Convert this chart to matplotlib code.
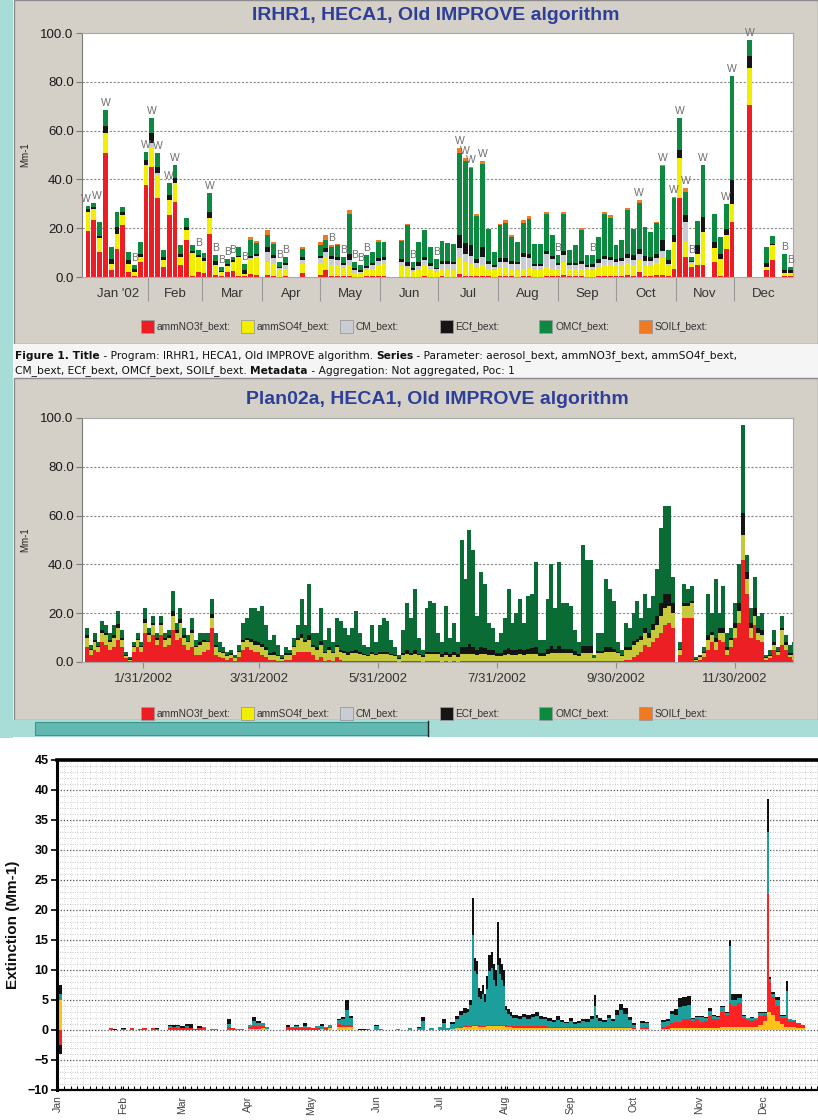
import numpy as np
import matplotlib.pyplot as plt
from matplotlib.patches import Rectangle

plt.rcParams['font.family'] = ['Liberation Sans', 'DejaVu Sans']
nan = np.nan

# ---- IMPROVE samples, one every 3 days (index -> day = 3*i) ----
p1_no3 = [19.0, 23.3, 10.3, 50.7, 2.7, 11.6, 21.2, 2.0, 0.3, 6.2,
          37.7, 45.2, 32.2, 4.1, 25.3, 30.8, 4.8, 15.1, 0.5, 2.0,
          1.5, 17.8, 0.7, 0.5, 2.0, 2.5, 0.5, 0.3, 1.2, 0.8,
          nan, 0.7, 0.3, 0.2, 0.3, nan, nan, 1.5, nan, nan,
          0.8, 2.7, 0.5, 0.5, 0.3, 0.4, 0.2, 0.2, 0.3, 0.3,
          0.5, 0.3, nan, nan, 0.2, 0.2, 0.2, 0.2, 0.3, 0.2,
          0.2, 0.3, 0.2, 0.2, 1.4, 0.5, 0.5, 0.3, 0.5, 0.3,
          0.2, 0.3, 0.3, 0.3, 0.2, 0.3, 0.3, 0.2, 0.2, 0.3,
          0.3, 0.3, 1.0, 0.3, 0.3, 0.3, 0.2, 0.2, 0.3, 0.3,
          0.3, 0.5, 0.5, 0.8, 0.5, 2.0, 0.5, 0.5, 0.8, 0.8,
          0.5, 3.4, 32.2, 8.2, 4.0, 4.8, 4.8, nan, 6.2, 0.5,
          11.6, 22.6, nan, nan, 70.6, nan, nan, 2.7, 6.8, nan,
          0.5, 0.3]
p1_so4 = [7.5, 4.4, 5.5, 8.5, 2.8, 6.2, 4.1, 3.5, 1.7, 2.0,
          8.2, 8.2, 9.6, 3.0, 6.2, 7.6, 3.4, 4.1, 9.5, 6.2,
          5.0, 6.2, 4.1, 1.5, 2.7, 3.6, 7.5, 1.0, 6.0, 7.2,
          nan, 5.5, 5.0, 2.5, 3.0, nan, nan, 4.0, nan, nan,
          5.0, 5.5, 4.5, 4.5, 3.5, 4.5, 1.5, 1.2, 2.5, 3.0,
          4.5, 5.0, nan, nan, 4.5, 3.5, 2.0, 3.0, 4.5, 3.0,
          2.0, 3.0, 3.0, 2.5, 6.2, 5.5, 5.0, 3.5, 4.5, 3.0,
          2.5, 3.5, 3.5, 3.0, 2.5, 3.0, 3.5, 2.5, 2.5, 4.0,
          3.0, 3.0, 5.0, 3.0, 3.0, 3.0, 2.5, 2.5, 3.5, 4.5,
          4.5, 4.0, 4.5, 5.0, 4.5, 5.0, 4.0, 4.0, 5.0, 7.0,
          4.0, 11.0, 16.4, 6.2, 1.5, 4.8, 13.7, nan, 5.5, 7.0,
          5.5, 7.5, nan, nan, 15.1, nan, nan, 1.5, 6.2, nan,
          1.0, 1.2]
p1_cm = [0, 0, 0, 0, 0, 0, 0, 0, 0, 0,
         0, 1.5, 1.0, 0, 0, 0, 0, 0, 0, 0,
         0, 0, 0, 0, 0, 0, 0, 0, 0.5, 0.8,
         nan, 4.1, 2.5, 1.0, 1.5, nan, nan, 1.5, nan, nan,
         2.0, 2.1, 2.5, 2.0, 1.0, 2.0, 1.0, 0.6, 1.0, 1.5,
         1.5, 1.5, nan, nan, 1.5, 1.0, 0.8, 1.5, 2.0, 1.5,
         1.0, 2.0, 2.0, 2.5, 4.1, 3.5, 3.0, 2.0, 3.0, 2.0,
         1.5, 2.5, 2.5, 2.0, 2.5, 5.0, 4.0, 2.0, 2.0, 5.0,
         4.0, 1.5, 3.0, 1.5, 1.5, 2.0, 1.5, 1.5, 2.0, 2.5,
         2.0, 1.5, 1.5, 2.0, 2.0, 2.5, 2.0, 2.0, 2.0, 3.0,
         1.0, 0, 0, 8.2, 0.5, 0, 0, nan, 0, 0,
         0, 0, nan, nan, 0, nan, nan, 0, 0, nan,
         0, 0]
p1_ec = [1.5, 0.8, 1.2, 2.8, 1.9, 2.7, 1.4, 1.3, 1.4, 1.4,
         2.1, 4.0, 2.4, 1.1, 2.1, 2.0, 1.4, 1.3, 0.8, 0.8,
         1.3, 2.7, 1.6, 0.6, 0.8, 1.0, 0.8, 1.5, 1.0, 0.8,
         nan, 2.0, 1.2, 0.6, 0.8, nan, nan, 1.0, nan, nan,
         1.0, 1.4, 1.2, 1.0, 0.8, 2.5, 0.8, 0.7, 0.9, 1.0,
         1.2, 1.2, nan, nan, 1.3, 1.5, 0.6, 1.5, 1.5, 1.2,
         0.6, 1.2, 1.3, 1.0, 5.5, 4.5, 4.5, 1.5, 4.5, 1.2,
         0.8, 1.5, 1.5, 1.2, 1.0, 1.5, 1.5, 0.8, 0.8, 1.5,
         1.5, 0.8, 1.5, 1.0, 1.0, 1.2, 0.8, 1.2, 1.5, 1.5,
         1.5, 1.2, 1.2, 1.5, 2.0, 2.0, 2.0, 1.5, 1.5, 4.5,
         1.5, 2.7, 3.4, 2.7, 0.7, 3.4, 6.2, nan, 2.7, 2.0,
         2.7, 9.6, nan, nan, 4.8, nan, nan, 1.4, 0.5, nan,
         1.4, 1.2]
p1_omc = [1.2, 2.0, 5.6, 6.5, 4.9, 6.2, 2.1, 3.5, 1.4, 4.8,
          3.4, 6.1, 5.5, 2.8, 4.8, 5.5, 3.4, 3.5, 2.2, 2.0,
          2.1, 7.6, 2.5, 1.5, 2.0, 1.1, 3.5, 2.7, 6.4, 4.2,
          nan, 4.8, 4.5, 1.9, 2.6, nan, nan, 3.5, nan, nan,
          4.5, 3.4, 3.8, 5.2, 2.6, 16.5, 2.7, 2.1, 4.2, 4.5,
          6.8, 6.4, nan, nan, 7.3, 15.2, 2.6, 8.2, 10.9, 6.4,
          3.7, 8.2, 7.6, 7.5, 33.6, 33.6, 31.7, 17.7, 34.0, 13.1,
          5.3, 13.5, 14.5, 10.0, 8.2, 12.5, 14.3, 8.2, 8.2, 15.1,
          8.3, 3.3, 15.2, 5.2, 7.2, 12.9, 3.9, 3.5, 9.1, 16.9,
          16.0, 5.8, 7.4, 18.3, 10.6, 19.0, 12.0, 10.5, 12.8, 30.1,
          4.0, 15.4, 13.0, 9.6, 1.5, 9.9, 21.2, nan, 11.6, 6.9,
          10.3, 42.5, nan, nan, 6.8, nan, nan, 6.7, 3.3, nan,
          6.7, 1.4]
p1_soil = [0, 0, 0, 0, 0, 0, 0, 0, 0, 0,
           0, 0, 0, 0, 0, 0, 0, 0, 0, 0,
           0, 0, 0, 0, 0, 0, 0, 0, 1.1, 1.0,
           nan, 2.1, 0.9, 0, 0, nan, nan, 0.8, nan, nan,
           1.1, 2.0, 0.5, 0.5, 0, 1.5, 0, 0, 0, 0,
           0.8, 0, nan, nan, 0.3, 0.2, 0, 0, 0, 0,
           0, 0, 0, 0, 2.0, 1.0, 0.5, 1.0, 1.0, 0,
           0, 0.6, 1.0, 0.6, 0, 1.0, 1.5, 0, 0, 0.8,
           0, 0, 1.0, 0, 0, 0.5, 0, 0, 0, 1.0,
           1.0, 0, 0, 0.5, 0, 1.0, 0, 0, 0.5, 0.5,
           0, 0.4, 0, 1.4, 0, 0, 0, nan, 0, 0,
           0, 0, nan, nan, 0, nan, nan, 0, 0, nan,
           0, 0]
p1_w = [0, 1, 3, 10, 11, 12, 14, 15, 21, 64, 65, 66, 68, 95, 99,
        101, 102, 103, 106, 110, 111, 114]
p1_b = [8, 19, 22, 23, 24, 25, 27, 33, 34, 42, 44, 46, 47, 48, 56,
        60, 81, 87, 104, 120, 121]
months = ["Jan '02", 'Feb', 'Mar', 'Apr', 'May', 'Jun', 'Jul', 'Aug',
          'Sep', 'Oct', 'Nov', 'Dec']
month_start = [0, 31, 59, 90, 120, 151, 181, 212, 243, 273, 304, 334, 365]

# ---- Plan02a modelled values, every 2 days ----
p2_no3 = [6, 3, 5, 4, 8, 7, 5, 6, 9, 6,
          1.5, 0.5, 4, 6, 4, 12, 8, 11, 7, 11,
          6, 7, 13, 9, 10, 7, 5, 6, 3, 3,
          4, 5, 14, 3, 2, 1.5, 1, 1.5, 0.5, 2,
          5, 6, 5, 4, 4, 3, 2, 1, 1, 0.5,
          0.3, 1, 1, 3, 4, 4, 4, 4, 3, 1,
          2, 0.5, 1, 0.5, 2, 1, 0.5, 0.5, 0.5, 0.5,
          0.3, 0.3, 0.3, 0.3, 0.3, 0.3, 0.3, 0.3, 0.3, 0.3,
          0.2, 0.3, 0.3, 0.3, 0.3, 0.3, 0.2, 0.3, 0.3, 0.3,
          0.3, 0.2, 0.3, 0.2, 0.3, 0.2, 0.3, 0.3, 0.3, 0.3,
          0.3, 0.3, 0.3, 0.3, 0.3, 0.3, 0.3, 0.3, 0.3, 0.3,
          0.3, 0.3, 0.3, 0.3, 0.3, 0.3, 0.3, 0.3, 0.3, 0.5,
          0.5, 0.5, 0.5, 0.5, 0.5, 0.5, 0.3, 0.5, 0.5, 0.5,
          0.5, 0.5, 0.5, 0.5, 0.5, 0.5, 0.5, 0.5, 1, 1,
          2, 3, 4, 7, 6, 8, 10, 12, 15, 16,
          14, 0, 3, 18, 18, 18, 0.5, 1, 2, 5,
          8, 5, 9, 8, 3, 6, 10, 16, 42, 28,
          10, 15, 9, 8, 1, 1.5, 5, 3, 7, 5,
          2, 1]
p2_so4 = [4, 2, 3, 2, 4, 4, 3, 4, 5, 3,
          1, 0.5, 2, 3, 2, 4, 3, 4, 2, 4,
          3, 3, 6, 3, 6, 3, 3, 6, 3, 4,
          4, 3, 4, 3, 2, 2, 1.5, 1.5, 1, 2,
          3, 3, 3, 3, 3, 3, 3, 2, 2, 2,
          1, 2, 2, 3, 5, 6, 4, 5, 3, 4,
          5, 3, 4, 3, 4, 3, 3, 2.5, 3, 3,
          3, 2.5, 2, 3, 2.5, 3, 3, 3, 2.5, 2,
          1, 2.5, 3, 2.5, 3, 2.5, 2, 3, 3, 3,
          3, 2, 2.5, 2, 2.5, 2, 3, 3, 3, 3,
          2.5, 3, 3, 2.5, 2.5, 2, 2, 2.5, 3, 2.5,
          2.5, 3, 2.5, 3, 3, 3, 2, 2, 3, 3,
          3, 3, 3, 3, 3, 2.5, 2, 3, 3, 3,
          1, 3, 3, 3.5, 3.5, 3.5, 3, 2, 4, 4,
          5, 5, 5, 5, 4, 5, 5, 7, 7, 7,
          6, 0, 2, 5, 5, 6, 0.5, 1, 1.5, 4,
          3, 3, 3, 4, 2, 3, 4, 5, 10, 6,
          4, 4, 3, 3, 0.5, 1, 2, 1, 6, 2,
          1, 2]
p2_ec = [1, 0.5, 1, 0.5, 1, 1, 1, 1, 1.5, 1,
         0.5, 0.3, 0.5, 0.5, 0.5, 1.5, 1, 1, 1, 1,
         1, 1, 2, 1, 1.5, 1, 0.5, 1, 0.5, 1,
         1, 0.5, 1.5, 1, 0.5, 0.5, 0.3, 0.5, 0.3, 0.5,
         1, 1, 1.5, 1.5, 1, 1.5, 1, 0.5, 1, 0.5,
         0.3, 0.5, 0.5, 0.5, 1, 1.5, 1, 2, 1, 1,
         1.5, 0.5, 1, 0.5, 1, 1, 1, 1, 1, 1.5,
         1, 0.5, 0.5, 1, 0.5, 1, 1, 1, 0.5, 0.5,
         0.3, 1, 1.5, 1, 1.5, 0.5, 0.5, 1, 1, 1,
         1, 1, 1.5, 1, 1.5, 1, 3, 3, 4, 3,
         2, 3, 2.5, 2, 2, 1.5, 1.5, 2, 2.5, 2,
         2, 2, 2, 2, 2.5, 3, 1.5, 1.5, 2, 3,
         2, 3, 2, 2, 2, 1.5, 1, 3, 3, 3,
         0.3, 1, 1, 2, 2, 1.5, 0.5, 0.5, 1, 1,
         1.5, 1.5, 1.5, 2, 2, 2.5, 4, 5, 6, 5,
         4, 0, 0.5, 1, 1, 1, 0.3, 0.3, 0.5, 2,
         1.5, 2, 2, 2, 1, 1, 2, 3, 9, 3,
         2, 3, 2, 2, 0.5, 0.5, 1, 0.5, 1, 1,
         0.5, 0.5]
p2_omc = [3, 1.5, 3, 1.5, 4, 3, 3, 4, 5.5, 3,
          1, 0.7, 1.5, 2.5, 1.5, 4.5, 2, 3, 2, 3,
          2, 2, 8, 3, 4.5, 3, 2.5, 5, 2.5, 4,
          3, 3.5, 6.5, 5, 3.5, 2, 1.2, 1.5, 1.2, 2.5,
          7, 8, 12.5, 13.5, 13, 15.5, 9, 5.5, 7, 4,
          1.4, 2.5, 1.5, 3.5, 5, 14.5, 6, 21, 5, 6,
          13.5, 5, 8, 4, 11, 12, 9.5, 7, 9.5, 16,
          7.7, 3.7, 3.2, 10.7, 4.7, 10.7, 13.7, 12.7, 5.7, 3.2,
          1.5, 9.2, 19.2, 14.2, 25.2, 6.7, 2.3, 17.7, 20.7, 19.7,
          7.7, 4.8, 18.7, 6.8, 11.7, 4.8, 43.7, 27.7, 46.7, 39.7,
          14.2, 30.7, 26.2, 11.2, 9.2, 4.2, 8.2, 13.2, 24.2, 11.2,
          15.2, 20.7, 11.2, 21.7, 22.2, 34.7, 5.2, 5.2, 20.7, 33.5,
          16.5, 34.5, 18.5, 18.5, 17.5, 8.5, 4.7, 41.5, 35.5, 35.5,
          1.2, 7.5, 7.5, 28, 24, 19.5, 4, 2, 10, 8,
          11.5, 15.5, 7.5, 14, 10, 11.5, 19, 31, 36, 36,
          11, 0, 2.5, 8, 6, 6, 0.7, 0.7, 2, 17,
          7.5, 24, 6, 17, 6, 4, 8, 16, 36, 7,
          6, 13, 5, 7, 1, 2, 5, 1.5, 5, 3,
          3.5, 4.5]
p2_tick_day = [30, 89, 150, 211, 272, 333]
p2_tick_lab = ['1/31/2002', '3/31/2002', '5/31/2002', '7/31/2002',
               '9/30/2002', '11/30/2002']

# ---- extinction budget (day of year, components) ----
p3_day = [0, 24, 26, 30, 34, 38, 40, 44, 46, 52, 54, 56, 58, 60, 62, 64, 66, 68,
          72, 74, 80, 82, 84, 86, 90, 92, 94, 96, 98, 108, 110, 112, 114, 116,
          118, 120, 122, 124, 126, 128, 132, 134, 136, 138, 142, 144, 146, 150,
          152, 160, 166, 170, 172, 176, 180, 182, 184, 186, 188, 190, 192,
          194, 195, 196, 197, 198, 199, 200, 201, 202, 203, 204, 205, 206, 207,
          208, 209, 210, 211, 212, 213, 214, 215, 216,
          218, 220, 222, 224, 226, 228, 230, 232, 234, 236, 238, 240, 242, 244,
          246, 248, 250, 252, 254, 255, 256, 258, 260, 262, 264, 266, 268, 270,
          272, 276, 278, 286, 288, 290, 292, 294, 296, 298, 300, 302, 304, 306,
          308, 310, 312, 314, 316, 318, 319, 320, 322, 324, 326, 328, 330, 332,
          334, 336, 337, 338, 340, 342, 344, 345, 346, 348, 350, 352]
p3_so4 = [5.0, 0, 0, 0, 0, 0, 0, 0, 0, 0, 0, 0, 0, 0, 0, 0, 0, 0,
          0, 0, 0, 0, 0, 0, 0.2, 0.2, 0.2, 0.3, 0.2, 0, 0, 0, 0, 0,
          0, 0, 0, 0.2, 0, 0.3, 0.5, 0.5, 0.5, 0.5, 0, 0, 0, 0,
          0, 0, 0, 0, 0, 0, 0, 0, 0, 0.2, 0.3, 0.4, 0.5,
          0.5, 0.5, 0.6, 0.6, 0.6, 0.5, 0.5, 0.5, 0.5, 0.6, 0.6, 0.6, 0.6, 0.6,
          0.6, 0.6, 0.6, 0.6, 0.5, 0.5, 0.5, 0.4, 0.4,
          0.4, 0.4, 0.4, 0.4, 0.4, 0.4, 0.4, 0.3, 0.3, 0.3, 0.3, 0.3, 0.3, 0.3,
          0.3, 0.3, 0.3, 0.3, 0.3, 0.3, 0.3, 0.3, 0.3, 0.3, 0.3, 0.3, 0.3, 0.3,
          0.2, 0.2, 0.2, 0.2, 0.2, 0.3, 0.3, 0.3, 0.3, 0.3, 0.3, 0.3, 0.3, 0.3,
          0.3, 0.3, 0.4, 0.5, 0.5, 0.5, 0.5, 0.5, 0.5, 0.5, 0.5, 0.5, 0.5, 0.8,
          1.5, 3.0, 3.0, 2.5, 1.5, 1.0, 0.5, 0.5, 0.5, 0.5, 0.3, 0.3]
p3_no3 = [0, 0.3, 0, 0.2, 0.3, 0.2, 0.3, 0.3, 0.2, 0.4, 0.5, 0.3, 0.4, 0.5, 0.3, 0.2, 0.4, 0.3,
          0, 0, 0.5, 0.3, 0, 0, 0.3, 0.5, 0.4, 0.3, 0, 0.5, 0.3, 0.4, 0.3, 0.4,
          0.3, 0.3, 0.3, 0, 0.3, 0.2, 0.5, 0.3, 0.3, 0.3, 0, 0, 0.2, 0,
          0, 0, 0, 0, 0, 0, 0, 0, 0, 0, 0, 0.1, 0.2,
          0.2, 0.2, 0.3, 0.3, 0.3, 0.3, 0.2, 0.2, 0.2, 0.3, 0.3, 0.3, 0.3, 0.3,
          0.3, 0.3, 0.3, 0.3, 0.3, 0.2, 0.2, 0.2, 0.2,
          0.2, 0.2, 0.2, 0.2, 0.2, 0.2, 0.2, 0.2, 0.2, 0.2, 0.2, 0.2, 0.2, 0.2,
          0.2, 0.2, 0.2, 0.2, 0.2, 0.2, 0.2, 0.2, 0.2, 0.2, 0.2, 0.2, 0.2, 0.2,
          0.2, 0.2, 0.3, 0.3, 0.5, 0.8, 1.0, 1.0, 1.5, 1.5, 1.2, 1.5, 1.0, 1.2,
          2.0, 1.5, 1.5, 2.5, 2.0, 4.0, 3.5, 3.5, 4.0, 1.5, 1.2, 1.0, 1.2, 1.5,
          1.0, 19.7, 5.0, 3.0, 2.5, 1.0, 1.5, 1.5, 1.0, 1.0, 0.8, 0.5]
p3_om = [1.0, 0, 0, 0, 0, 0, 0, 0, 0, 0.2, 0, 0.3, 0, 0.2, 0, 0, 0, 0.2,
         0.2, 0.2, 0.5, 0, 0.2, 0.2, 0.4, 0.8, 0.6, 0.5, 0.3, 0, 0.2, 0.3, 0.2, 0.3,
         0.2, 0, 0.3, 0.5, 0.2, 0.4, 0.6, 1.0, 2.5, 1.2, 0, 0, 0, 0.6,
         0.2, 0.2, 0.4, 0.3, 1.5, 0.3, 0.5, 1.2, 0.3, 0.8, 1.5, 2.0, 2.2,
         2.3, 3.5, 15.0, 9.0, 8.5, 4.7, 4.5, 5.3, 4.0, 6.0, 9.0, 9.5, 7.5, 6.5,
         10.0, 8.5, 7.5, 6.5, 2.5, 2.0, 1.6, 1.4, 1.4,
         1.2, 1.5, 1.2, 1.5, 1.8, 1.3, 1.2, 1.0, 0.8, 1.2, 0.8, 0.6, 1.0, 0.5,
         0.7, 1.0, 0.9, 1.3, 3.5, 1.5, 1.0, 0.8, 1.5, 1.0, 2.0, 2.8, 2.2, 1.2,
         0.5, 0.8, 0.6, 0.8, 0.8, 1.5, 1.2, 2.5, 2.2, 2.3, 0.3, 0.3, 0.8, 0.5,
         0.8, 0.5, 0.3, 0.8, 0.3, 9.5, 1.0, 1.0, 0.8, 0.3, 0.3, 0.5, 0.3, 0.5,
         0.3, 10.3, 0.5, 0.5, 1.0, 0.3, 0.3, 4.5, 0.3, 0.2, 0, 0]
p3_ec = [1.5, 0, 0.2, 0.2, 0, 0, 0, 0, 0.1, 0.2, 0.3, 0.3, 0.3, 0.3, 0.7, 0, 0.2, 0,
         0, 0, 0.8, 0, 0, 0, 0, 0.7, 0.3, 0, 0, 0.3, 0, 0.2, 0, 0.4,
         0, 0, 0, 0.3, 0, 0, 0.3, 0.3, 1.7, 0.3, 0.2, 0.2, 0, 0.2,
         0, 0, 0, 0.2, 0.7, 0, 0, 0.6, 0, 0.3, 0.5, 0.6, 0.8,
         0.5, 0.8, 6.1, 2.1, 2.1, 1.5, 1.3, 1.5, 1.3, 2.1, 2.6, 2.6, 2.6, 2.6,
         7.1, 2.6, 2.6, 2.6, 0.7, 0.8, 0.7, 0.5, 0.5,
         0.5, 0.5, 0.7, 0.6, 0.6, 0.5, 0.4, 0.5, 0.4, 0.6, 0.3, 0.3, 0.5, 0.3,
         0.3, 0.4, 0.4, 0.5, 1.8, 0.5, 0.5, 0.3, 0.5, 0.4, 0.8, 1.0, 1.0, 0.5,
         0.3, 0.3, 0.3, 0.3, 0.4, 0.6, 1.0, 1.5, 1.5, 1.5, 0.2, 0.2, 0.3, 0.2,
         0.5, 0.2, 0.2, 0.2, 0.2, 1.0, 1.0, 1.0, 0.7, 0.2, 0, 0.2, 0, 0.2,
         0.2, 5.5, 0.3, 0.3, 0.5, 0.2, 0.2, 1.7, 0, 0, 0, 0]
p3_neg_day = [0]
p3_neg_no3 = [-2.5]
p3_neg_ec = [-1.5]
p3_months = ['Jan', 'Feb', 'Mar', 'Apr', 'May', 'Jun', 'Jul', 'Aug', 'Sep',
             'Oct', 'Nov', 'Dec']

names = ['ammNO3f_bext:', 'ammSO4f_bext:', 'CM_bext:', 'ECf_bext:',
         'OMCf_bext:', 'SOILf_bext:']
colors = ['#ee1d23', '#f1ee00', '#c9ccd3', '#151515', '#0c8a3f', '#f07a22']

W, H = 818, 1120
fig = plt.figure(figsize=(W / 100, H / 100), dpi=100)


def box(x0, y0, x1, y1):
    return fig.add_axes([x0 / W, 1 - y1 / H, (x1 - x0) / W, (y1 - y0) / H])


bg = fig.add_axes([0, 0, 1, 1], zorder=0)
bg.set_xlim(0, W)
bg.set_ylim(H, 0)
bg.axis('off')

gray = '#d4d0c8'
teal = '#a8dcd6'
bg.add_patch(Rectangle((0, 0), 13, 738, fc=teal, ec='none'))
bg.add_patch(Rectangle((14, 0), 804, 344, fc=gray, ec='#8c8c8c', lw=1))
bg.add_patch(Rectangle((14, 344), 804, 34, fc='#f5f5f5', ec='none'))
bg.add_patch(Rectangle((14, 378), 804, 342, fc=gray, ec='#8c8c8c', lw=1))
bg.add_patch(Rectangle((0, 720), 818, 17, fc=teal, ec='none'))
bg.add_patch(Rectangle((35, 722), 393, 13, fc='#62b9b1', ec='#3f948c', lw=0.8))
bg.plot([428, 428], [721, 736], color='#222222', lw=1)

title_kw = dict(ha='center', va='center', color='#2e3f97', fontsize=14,
                fontweight='bold')
bg.text(436, 16, 'IRHR1, HECA1, Old IMPROVE algorithm', **title_kw)
bg.text(437, 400, 'Plan02a, HECA1, Old IMPROVE algorithm', **title_kw)

# legends under the two browser charts
for k, (nm, c) in enumerate(zip(names, colors)):
    x = 141 + 99.5 * k
    for y in (326, 713):
        bg.add_patch(Rectangle((x, y - 6.5), 13, 13, fc=c, ec='#9a9a9a', lw=0.6))
        bg.text(x + 16, y, nm, va='center', fontsize=7.3, color='#333333')

# caption with bold keywords
renderer = fig.canvas.get_renderer()


def rich_line(x, y, parts):
    for s, bold in parts:
        t = bg.text(x, y, s, va='center', fontsize=7.7, color='#111111',
                    family='DejaVu Sans', fontweight='bold' if bold else 'normal')
        x += t.get_window_extent(renderer=renderer).width


rich_line(15, 356, [('Figure 1. Title', True),
                    (' - Program: IRHR1, HECA1, Old IMPROVE algorithm. ', False),
                    ('Series', True),
                    (' - Parameter: aerosol_bext, ammNO3f_bext, ammSO4f_bext,', False)])
rich_line(15, 371, [('CM_bext, ECf_bext, OMCf_bext, SOILf_bext. ', False),
                    ('Metadata', True),
                    (' - Aggregation: Not aggregated, Poc: 1', False)])


def style_box(ax):
    ax.set_facecolor('white')
    for s in ('top', 'right', 'bottom'):
        ax.spines[s].set_color('#a8a8a8')
    ax.spines['left'].set_color('#7a7a7a')
    ax.set_ylim(0, 100)
    ticks = np.arange(0, 101, 20)
    ax.set_yticks(ticks)
    ax.set_yticklabels(['%.1f' % v for v in ticks])
    ax.tick_params(axis='y', length=4, color='#7a7a7a', labelsize=9.5,
                   labelcolor='#1a1a1a', pad=2)
    for v in (20, 40, 60, 80):
        ax.axhline(v, color='#8a8a8a', lw=0.8, ls=(0, (2, 1.5)), zorder=0.5)
    ax.set_ylabel('Mm-1', fontsize=7, color='#222222')
    ax.yaxis.set_label_coords(-52 / 711, 0.5)


# ---- top chart: sampled days ----
ax1 = box(82, 33, 793, 277)
style_box(ax1)
day1 = np.arange(len(p1_no3)) * 3
comps = [p1_no3, p1_so4, p1_cm, p1_ec, p1_omc, p1_soil]
base = np.zeros(len(day1))
ok = ~np.isnan(np.array(p1_no3, dtype=float))
for vals, c in zip(comps, colors):
    v = np.nan_to_num(np.array(vals, dtype=float))
    ax1.bar(day1[ok], v[ok], bottom=base[ok], width=2.5, color=c, lw=0, zorder=2)
    base = base + v
# flag letters; the first two neighbouring flags lean apart so they stay legible
for flag, idx in (('W', p1_w), ('B', p1_b)):
    for i in idx:
        ha = 'right' if i == 0 else ('left' if i == 1 else 'center')
        xs = day1[i] + (1.2 if i == 0 else (-1.2 if i == 1 else 0))
        ax1.text(xs, base[i] + 0.8, flag, ha=ha, va='bottom',
                 fontsize=7.5, color='#6e6e6e', zorder=3)
ax1.set_xlim(-3.1, 364.5)
mid = [(a + b) / 2 for a, b in zip(month_start[:-1], month_start[1:])]
ax1.set_xticks(mid)
ax1.set_xticklabels(months, fontsize=9.5, color='#333333')
ax1.set_xticks(month_start[1:-1], minor=True)
ax1.tick_params(axis='x', which='major', length=0, pad=8)
ax1.tick_params(axis='x', which='minor', length=17, color='#9a9a9a', width=0.8)

# ---- middle chart: every other day ----
ax2 = box(82, 418, 793, 662)
style_box(ax2)
day2 = np.arange(len(p2_no3)) * 2
base = np.zeros(len(day2))
p2_cols = ['#ec1f24', '#c6c93b', '#141414', '#0b6b35']
for vals, c in zip([p2_no3, p2_so4, p2_ec, p2_omc], p2_cols):
    v = np.array(vals, dtype=float)
    ax2.bar(day2, v, bottom=base, width=2.05, align='edge', color=c, lw=0, zorder=2)
    base = base + v
ax2.set_xlim(-1.4, 362.7)
ax2.set_xticks(p2_tick_day)
ax2.set_xticklabels(p2_tick_lab, fontsize=9.5, color='#333333')
ax2.tick_params(axis='x', length=4, color='#8a8a8a', pad=4)

# ---- bottom chart: extinction budget ----
ax3 = box(57, 760, 831, 1090)
ax3.set_facecolor('white')
ax3.set_xlim(-0.5, 366.4)
ax3.set_ylim(-10, 45)
for v in range(-10, 46):
    if v % 5:
        ax3.axhline(v, color='#b4b4b4', lw=0.6, ls=(0, (1, 2)), zorder=0)
    else:
        ax3.axhline(v, color='#505050', lw=0.9, ls=(0, (1, 1.5)), zorder=0)
for d in np.arange(3, 366, 3):
    ax3.axvline(d, color='#cacaca', lw=0.5, ls=(0, (1, 2)), zorder=0)
d3 = np.array(p3_day, dtype=float)
w3 = np.minimum(np.diff(np.append(d3, d3[-1] + 2)), 2)
base = np.zeros(len(d3))
for vals, c in zip([p3_so4, p3_no3, p3_om, p3_ec],
                   ['#ffc21a', '#ff2222', '#1b9e9c', '#111111']):
    v = np.array(vals, dtype=float)
    ax3.bar(d3, v, bottom=base, width=w3, align='edge', color=c, lw=0, zorder=2)
    base = base + v
nb = np.zeros(len(p3_neg_day))
for vals, c in zip([p3_neg_no3, p3_neg_ec], ['#ff2222', '#111111']):
    v = np.array(vals, dtype=float)
    ax3.bar(p3_neg_day, v, bottom=nb, width=2, align='edge', color=c, lw=0, zorder=2)
    nb = nb + v
ax3.spines['top'].set_linewidth(2.6)
ax3.spines['left'].set_linewidth(2.2)
ax3.spines['bottom'].set_linewidth(1.6)
ax3.spines['right'].set_visible(False)
ax3.set_yticks(np.arange(-10, 46, 5))
ax3.tick_params(axis='y', length=4, width=1.2, labelsize=9, pad=2)
for t in ax3.get_yticklabels():
    t.set_fontweight('bold')
ax3.set_xticks(month_start[:-1])
ax3.set_xticklabels(p3_months, rotation=90, fontsize=7.5, color='#444444')
ax3.set_xticks(np.arange(0, 366, 3), minor=True)
ax3.tick_params(axis='x', which='major', length=3, direction='in', pad=4)
ax3.tick_params(axis='x', which='minor', length=3, direction='in', width=0.8)
bg.text(13, 925, 'Extinction (Mm-1)', rotation=90, ha='center', va='center',
        fontsize=11, fontweight='bold', color='#111111')

fig.savefig('out.png', dpi=100)
